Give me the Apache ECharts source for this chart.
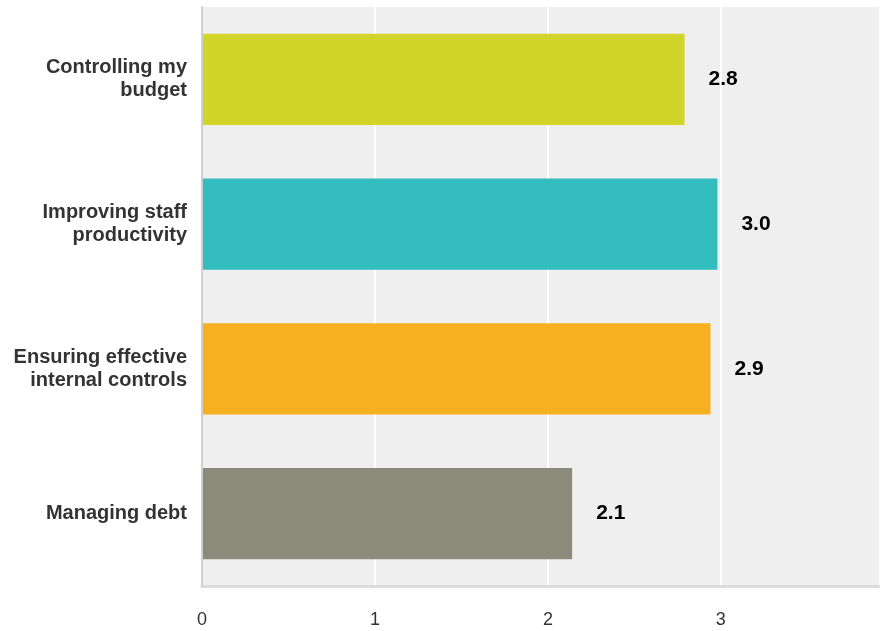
<!DOCTYPE html>
<html>
<head>
<meta charset="utf-8">
<script src="https://cdn.jsdelivr.net/npm/echarts@6/dist/echarts.min.js"></script>
<style>
  html, body { margin: 0; padding: 0; background: #ffffff; }
  #chart { width: 880px; height: 631px; }
</style>
</head>
<body>
<div id="chart"></div>
<script>
// Average rating per priority area
const categories = [
  'Controlling my\nbudget',
  'Improving staff\nproductivity',
  'Ensuring effective\ninternal controls',
  'Managing debt'
];
const ratings = [2.79, 2.98, 2.94, 2.14];
const barColors = ['#D1D52A', '#33BDBF', '#F7B01F', '#8A8B7A'];
const axisMin = 0;
const axisMax = 3.92;
const axisStep = 1;

const FONT = '"Liberation Sans", Arial, Helvetica, sans-serif';

const chart = echarts.init(document.getElementById('chart'), null, { renderer: 'canvas' });

chart.setOption({
  animation: false,
  textStyle: { fontFamily: FONT },
  grid: {
    left: 202,
    right: 0,
    top: 7,
    bottom: 45,
    show: true,
    backgroundColor: '#EFEFEF',
    borderWidth: 0
  },
  xAxis: {
    type: 'value',
    min: axisMin,
    max: axisMax,
    interval: axisStep,
    axisLine: { show: true, lineStyle: { color: '#DCDCDC', width: 3 } },
    axisTick: { show: false },
    splitLine: { show: true, lineStyle: { color: '#FFFFFF', width: 2 } },
    axisLabel: {
      color: '#333333',
      fontSize: 18,
      fontFamily: FONT,
      margin: 25,
      showMaxLabel: false,
      formatter: v => String(v)
    }
  },
  yAxis: {
    type: 'category',
    data: categories,
    inverse: true,
    z: 3,
    axisLine: { show: true, lineStyle: { color: '#CFCFCF', width: 2 } },
    axisTick: { show: false },
    splitLine: { show: false },
    axisLabel: {
      color: '#333333',
      fontSize: 20,
      fontWeight: 'bold',
      fontFamily: FONT,
      lineHeight: 23,
      margin: 15,
      align: 'right'
    }
  },
  series: [{
    type: 'bar',
    barWidth: '63%',
    data: ratings.map((v, i) => ({ value: v, itemStyle: { color: barColors[i] } })),
    label: {
      show: true,
      position: 'right',
      distance: 24,
      color: '#000000',
      fontSize: 21,
      fontWeight: 'bold',
      fontFamily: FONT,
      formatter: p => p.value.toFixed(1)
    }
  }]
});
</script>
</body>
</html>
